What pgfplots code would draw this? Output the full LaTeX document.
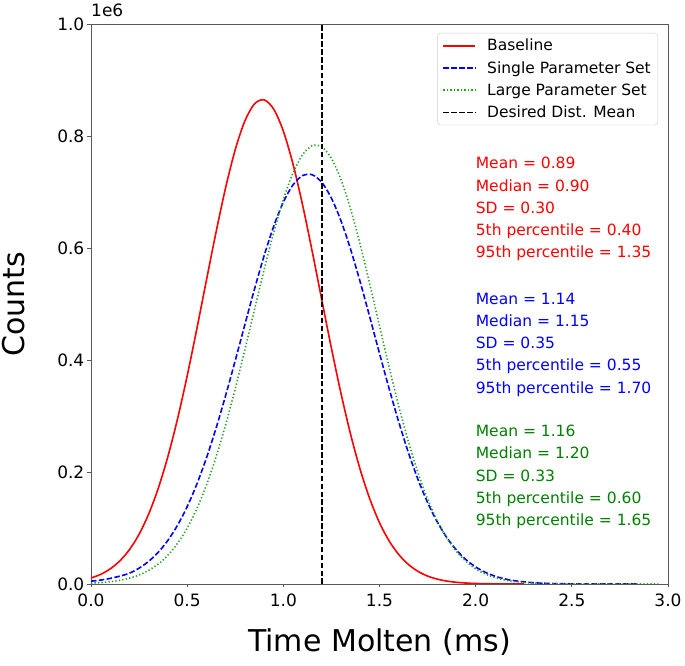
\documentclass[border=0pt]{standalone}
\usepackage{fontspec}
\setmainfont{DejaVu Sans}
\usepackage{pgfplots}
\pgfplotsset{compat=1.18}
\usetikzlibrary{calc}
\definecolor{mplred}{RGB}{255,0,0}
\definecolor{mplblue}{RGB}{0,0,255}
\definecolor{mplgreen}{RGB}{0,128,0}
\definecolor{dotgreen}{RGB}{40,160,40}
\tikzset{
  redline/.style={draw=mplred, line width=1.6pt},
  blueline/.style={draw=mplblue, line width=1.6pt, dash pattern=on 5.5pt off 2.4pt},
  greenline/.style={draw=dotgreen, line width=1.6pt, dash pattern=on 1.3pt off 2.2pt},
  meanline/.style={draw=black, line width=1.5pt, dash pattern=on 5.5pt off 2.4pt},
}

\begin{document}
\begin{tikzpicture}
\begin{axis}[
  scale only axis, width=577pt, height=560pt,
  xmin=0, xmax=3, ymin=0, ymax=1,
  xtick={0,0.5,...,3}, ytick={0,0.2,...,1},
  axis line style={black!65, line width=0.9pt},
  tick style={black!65, line width=0.9pt},
  tick align=outside, major tick length=3.5pt,
  xtick pos=bottom, ytick pos=left,
  /pgf/number format/assume math mode=true,
  /pgf/number format/fixed, /pgf/number format/fixed zerofill,
  /pgf/number format/precision=1,
  scaled y ticks=false,
  ticklabel style={font=\fontsize{17}{20}\selectfont},
  xticklabel style={inner sep=0pt, anchor=north, yshift=-6pt},
  yticklabel style={inner sep=0pt, anchor=east, xshift=-3pt},
  legend style={at={(rel axis cs:1,1)}, anchor=north east, xshift=-10pt, yshift=-9pt,
    draw=black!20, rounded corners=3pt, fill=white, inner xsep=5pt, inner ysep=4pt,
    font=\fontsize{15.5}{18}\selectfont, row sep=5pt},
  legend cell align=left,
]
\coordinate (BL) at (rel axis cs:0,0);
\coordinate (TL) at (rel axis cs:0,1);
\coordinate (BR) at (rel axis cs:1,0);

% Baseline, counts in units of 1e6
\addplot[redline, smooth,
  legend image code/.code={\draw[redline] (0pt,0pt) -- (32pt,0pt); \path (41pt,0pt);}] coordinates {
(0.00,0.0106) (0.05,0.0172) (0.10,0.0270) (0.15,0.0413) (0.20,0.0614)
(0.25,0.0888) (0.30,0.1251) (0.35,0.1712) (0.40,0.2279) (0.45,0.2950)
(0.50,0.3716) (0.55,0.4552) (0.60,0.5422) (0.65,0.6281) (0.70,0.7078)
(0.75,0.7757) (0.80,0.8269) (0.85,0.8573) (0.90,0.8645) (0.95,0.8479)
(1.00,0.8088) (1.05,0.7503) (1.10,0.6770) (1.15,0.5942) (1.20,0.5072)
(1.25,0.4211) (1.30,0.3400) (1.35,0.2669) (1.40,0.2039) (1.45,0.1515)
(1.50,0.1094) (1.55,0.0769) (1.60,0.0526) (1.65,0.0350) (1.70,0.0226)
(1.75,0.0142) (1.80,0.0087) (1.85,0.0052) (1.90,0.0030) (1.95,0.0017)
(2.00,0.0009) (2.10,0.0003) (2.20,0.0001) (2.25,0.0000)
};
\addlegendentry{Baseline}

% Single Parameter Set
\addplot[blueline, smooth,
  legend image code/.code={\draw[blueline] (0pt,0pt) -- (32pt,0pt); \path (41pt,0pt);}] coordinates {
(0.00,0.0050) (0.05,0.0070) (0.10,0.0100) (0.15,0.0140) (0.20,0.0193)
(0.25,0.0283) (0.30,0.0405) (0.35,0.0568) (0.40,0.0780) (0.45,0.1049)
(0.50,0.1381) (0.55,0.1781) (0.60,0.2249) (0.65,0.2780) (0.70,0.3366)
(0.75,0.3990) (0.80,0.4632) (0.85,0.5265) (0.90,0.5861) (0.95,0.6388)
(1.00,0.6819) (1.05,0.7126) (1.10,0.7292) (1.15,0.7308) (1.20,0.7171)
(1.25,0.6890) (1.30,0.6483) (1.35,0.5973) (1.40,0.5389) (1.45,0.4760)
(1.50,0.4118) (1.55,0.3489) (1.60,0.2894) (1.65,0.2350) (1.70,0.1869)
(1.75,0.1456) (1.80,0.1110) (1.85,0.0829) (1.90,0.0606) (1.95,0.0434)
(2.00,0.0304) (2.05,0.0209) (2.10,0.0140) (2.15,0.0092) (2.20,0.0060)
(2.30,0.0023) (2.40,0.0008) (2.50,0.0003) (2.60,0.0001) (2.70,0.0000)
(2.85,0.0000)
};
\addlegendentry{Single Parameter Set}

% Large Parameter Set
\addplot[greenline, smooth,
  legend image code/.code={\draw[greenline] (0pt,0pt) -- (32pt,0pt); \path (41pt,0pt);}] coordinates {
(0.00,0.0015) (0.05,0.0025) (0.10,0.0041) (0.15,0.0066) (0.20,0.0104)
(0.25,0.0161) (0.30,0.0243) (0.35,0.0358) (0.40,0.0515) (0.45,0.0726)
(0.50,0.0998) (0.55,0.1342) (0.60,0.1764) (0.65,0.2266) (0.70,0.2844)
(0.75,0.3488) (0.80,0.4182) (0.85,0.4899) (0.90,0.5610) (0.95,0.6278)
(1.00,0.6866) (1.05,0.7338) (1.10,0.7666) (1.15,0.7826) (1.20,0.7806)
(1.25,0.7599) (1.30,0.7219) (1.35,0.6693) (1.40,0.6056) (1.45,0.5347)
(1.50,0.4607) (1.55,0.3874) (1.60,0.3178) (1.65,0.2545) (1.70,0.1989)
(1.75,0.1516) (1.80,0.1129) (1.85,0.0820) (1.90,0.0581) (1.95,0.0402)
(2.00,0.0271) (2.05,0.0179) (2.10,0.0115) (2.15,0.0072) (2.20,0.0044)
(2.30,0.0015) (2.40,0.0005) (2.50,0.0001) (2.60,0.0000) (2.95,0.0000)
};
\addlegendentry{Large Parameter Set}

% desired mean
\addplot[meanline,
  legend image code/.code={\draw[meanline] (0pt,0pt) -- (32pt,0pt); \path (41pt,0pt);}] coordinates {(1.2,0) (1.2,1)};
\addlegendentry{Desired Dist. Mean}

\node[mplred, anchor=north west, align=left, inner sep=0pt,
  font=\fontsize{15.5}{22.2}\selectfont] at (axis cs:2.0,0.762)
  {Mean = 0.89\\Median = 0.90\\SD = 0.30\\5th percentile = 0.40\\95th percentile = 1.35};
\node[mplblue, anchor=north west, align=left, inner sep=0pt,
  font=\fontsize{15.5}{22.2}\selectfont] at (axis cs:2.0,0.520)
  {Mean = 1.14\\Median = 1.15\\SD = 0.35\\5th percentile = 0.55\\95th percentile = 1.70};
\node[mplgreen, anchor=north west, align=left, inner sep=0pt,
  font=\fontsize{15.5}{22.2}\selectfont] at (axis cs:2.0,0.284)
  {Mean = 1.16\\Median = 1.20\\SD = 0.33\\5th percentile = 0.60\\95th percentile = 1.65};
\end{axis}

\node[anchor=base west, inner sep=0pt, font=\fontsize{17}{20}\selectfont]
  at ($(TL)+(0pt,7.3pt)$) {1e6};
\node[anchor=base, inner sep=0pt, font=\fontsize{30}{36}\selectfont]
  at ($(BL)!0.5!(BR)+(0pt,-68pt)$) {Time Molten (ms)};
\node[anchor=base, rotate=90, inner sep=0pt, font=\fontsize{30}{36}\selectfont]
  at ($(BL)!0.5!(TL)+(-66pt,0pt)$) {Counts};

\pgfresetboundingbox
\path[use as bounding box] ($(BL)+(-91pt,-82pt)$) rectangle ($(BL)+(594pt,584pt)$);
\end{tikzpicture}
\end{document}
